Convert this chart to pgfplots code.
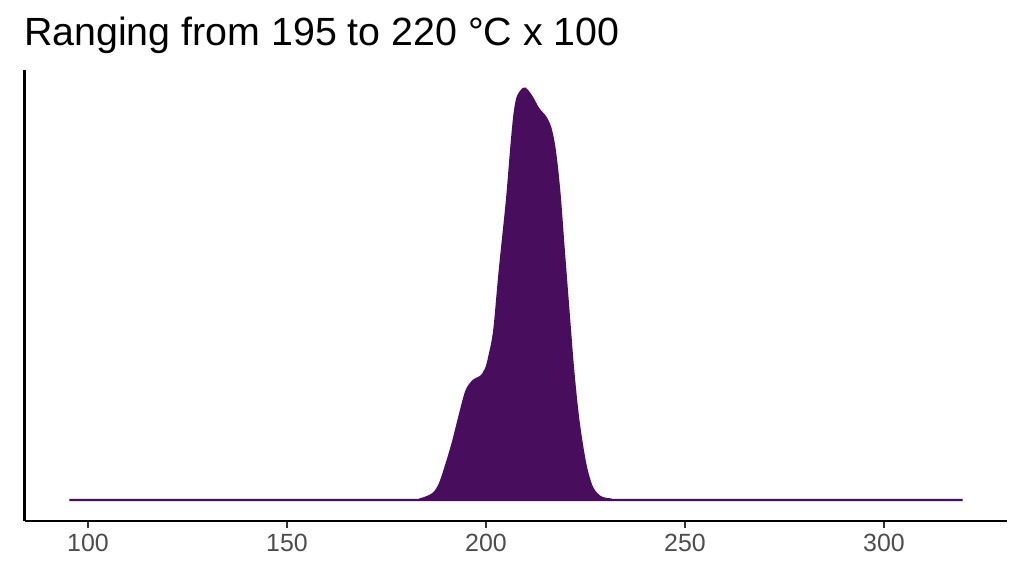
\documentclass[border=0pt]{standalone}
\usepackage{pgfplots}
\pgfplotsset{compat=1.18}
\usepackage{fontspec}
\setmainfont{Liberation Sans}
\definecolor{vir}{RGB}{72,13,92}
\definecolor{ticklab}{RGB}{77,77,77}
\definecolor{tickcol}{RGB}{51,51,51}
\begin{document}
\begin{tikzpicture}
\useasboundingbox (0,0) rectangle (1024bp,576bp);
\node[anchor=base west, inner sep=0pt, font=\fontsize{39.5}{39.5}\selectfont] at (24bp,530.5bp) {Ranging from 195 to 220 °C x 100};
\begin{axis}[
    at={(24.7bp,55.2bp)}, anchor=south west,
    scale only axis,
    width=982.6bp, height=450.8bp,
    xmin=84.1, xmax=331.0,
    ymin=-20.8, ymax=430,
    axis x line=bottom, axis y line=left,
    axis line style={-, black, line width=2.5bp},
    xtick={100,150,200,250,300},
    ytick=\empty,
    tick align=outside,
    major tick length=7bp,
    tick style={tickcol, line width=2bp},
    xticklabel style={font=\fontsize{25}{25}\selectfont, text=ticklab, yshift=-3bp},
    /pgf/number format/assume math mode=true,
    /pgf/number format/1000 sep={},
]
% density outline (baseline = 0)
\addplot[fill=vir, draw=vir, line width=2.3bp, smooth, tension=0.5] coordinates {
(95.3,0) (150,0) (180,0) (183.4,0.5) (186.7,6) (188.4,16) (190.1,36) (191.8,59)
(193.5,86) (195.1,109) (196.8,119) (198.9,124) (200.2,133) (201.0,146)
(201.7,159) (202.3,177) (203.5,230) (205.3,300) (206.4,353) (207.2,386)
(208.0,403) (209.4,411) (210.2,410) (211.5,403) (213.2,391) (214.9,383)
(216.1,373) (217.0,357) (217.8,333) (218.6,300) (219.4,257) (220.7,190)
(221.9,130) (223.2,80) (224.9,37) (226.6,13) (228.7,3) (231.3,0.5)
(235,0) (280,0) (319.8,0)
} \closedcycle;
\end{axis}
\end{tikzpicture}
\end{document}
